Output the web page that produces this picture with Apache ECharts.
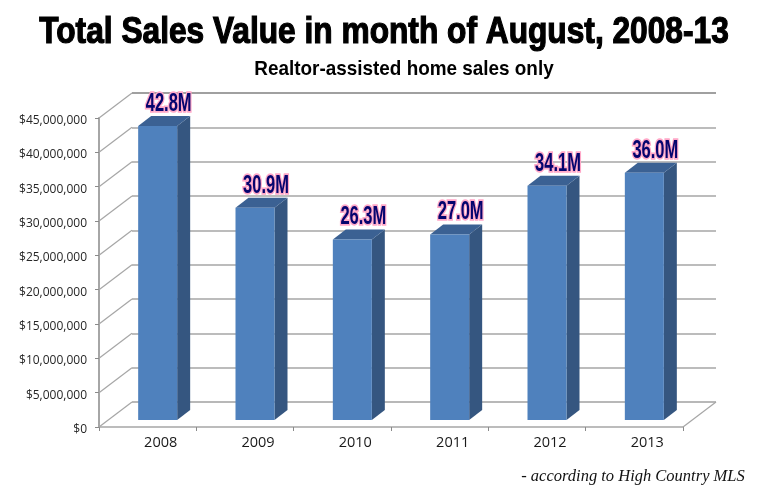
<!DOCTYPE html>
<html>
<head>
<meta charset="utf-8">
<style>
  html, body { margin: 0; padding: 0; background: #fff; }
  #chart { width: 761px; height: 490px; }
</style>
<script src="https://cdn.jsdelivr.net/npm/echarts@6/dist/echarts.min.js"></script>
</head>
<body>
<div id="chart"></div>
<script>
const years = ['2008', '2009', '2010', '2011', '2012', '2013']
const salesValue = [42800000, 30900000, 26300000, 27000000, 34100000, 36000000]
const wallTicks = [0, 5000000, 10000000, 15000000, 20000000, 25000000, 30000000, 35000000, 40000000, 45000000]

const DEPTH_X = 33
const DEPTH_Y = 25
const BAR_WIDTH = 39
const BAR_SHIFT_X = 10
const BAR_SHIFT_Y = 7
const SIDE_X = 13
const SIDE_Y = 10
const HEAVY_FONT = '"Liberation Sans", sans-serif'

const chart = echarts.init(document.getElementById('chart'))

function moneyLabel (v) {
  return '{m|$' + String(v).replace(/\B(?=(\d{3})+$)/g, ',') + '}'
}

function renderBar (params, api) {
  const top = api.coord([api.value(0), api.value(1)])
  const base = api.coord([api.value(0), 0])
  const x0 = top[0] + BAR_SHIFT_X - BAR_WIDTH / 2
  const x1 = x0 + BAR_WIDTH
  const y0 = top[1] - BAR_SHIFT_Y
  const yBot = base[1] - BAR_SHIFT_Y
  return {
    type: 'group',
    children: [
      {
        type: 'polygon',
        shape: { points: [[x1, y0], [x1 + SIDE_X, y0 - SIDE_Y], [x1 + SIDE_X, yBot - SIDE_Y], [x1, yBot]] },
        style: { fill: '#355680' }
      },
      {
        type: 'polygon',
        shape: { points: [[x0, y0], [x0 + SIDE_X, y0 - SIDE_Y], [x1 + SIDE_X, y0 - SIDE_Y], [x1, y0]] },
        style: { fill: '#3b6193' }
      },
      {
        type: 'rect',
        shape: { x: x0, y: y0, width: BAR_WIDTH, height: yBot - y0 },
        style: { fill: '#4f81bd' }
      },
      {
        type: 'text',
        z2: 10,
        x: x0 + BAR_WIDTH / 2 + 11,
        y: y0 - 22,
        scaleX: 0.66,
        style: {
          text: (api.value(1) / 1000000).toFixed(1) + 'M',
          align: 'center',
          verticalAlign: 'middle',
          font: 'bold 25px ' + HEAVY_FONT,
          fill: '#05056e',
          stroke: '#ffa8c8',
          lineWidth: 3.5,
          strokeFirst: true
        }
      }
    ]
  }
}

function renderWallLine (params, api) {
  const p = api.coord([0, api.value(0)])
  const left = params.coordSys.x
  return {
    type: 'line',
    shape: { x1: left, y1: p[1], x2: left + DEPTH_X, y2: p[1] - DEPTH_Y },
    style: { stroke: '#a6a6a6', lineWidth: 1.2 }
  }
}

function renderFloorEdge (params, api) {
  const right = params.coordSys.x + params.coordSys.width
  const p = api.coord([0, 0])
  return {
    type: 'line',
    shape: { x1: right, y1: p[1], x2: right + DEPTH_X, y2: p[1] - DEPTH_Y },
    style: { stroke: '#a6a6a6', lineWidth: 1.2 }
  }
}

const option = {
  animation: false,
  backgroundColor: '#fff',
  graphic: [
    {
      type: 'text',
      x: 384,
      y: 33,
      scaleX: 0.88,
      style: {
        text: 'Total Sales Value in month of August, 2008-13',
        align: 'center',
        verticalAlign: 'middle',
        font: 'bold 36px ' + HEAVY_FONT,
        fill: '#000',
        stroke: '#000',
        lineWidth: 1.2
      }
    },
    {
      type: 'text',
      x: 404,
      y: 69,
      scaleX: 0.9,
      style: {
        text: 'Realtor-assisted home sales only',
        align: 'center',
        verticalAlign: 'middle',
        font: 'bold 21px ' + HEAVY_FONT,
        fill: '#000'
      }
    },
    {
      type: 'text',
      x: 633,
      y: 477,
      style: {
        text: '- according to High Country MLS',
        align: 'center',
        verticalAlign: 'middle',
        font: 'italic 16.5px "Liberation Serif", serif',
        fill: '#111'
      }
    }
  ],
  grid: [
    { left: 99, top: 118, width: 584, height: 309 },
    { left: 132, top: 93, width: 584, height: 309 }
  ],
  xAxis: [
    {
      type: 'category',
      data: years,
      gridIndex: 0,
      axisLine: { lineStyle: { color: '#a6a6a6', width: 1.5 } },
      axisTick: { show: true, alignWithLabel: false, length: 4, lineStyle: { color: '#8a8a8a' } },
      axisLabel: { color: '#1a1a1a', fontFamily: 'Open Sans', fontSize: 14.5, margin: 8, padding: [0, 0, 0, 26] }
    },
    {
      type: 'category',
      data: years,
      gridIndex: 1,
      show: false
    }
  ],
  yAxis: [
    {
      type: 'value',
      gridIndex: 0,
      min: 0,
      max: 45000000,
      interval: 5000000,
      axisLine: { show: true, lineStyle: { color: '#a6a6a6', width: 2 } },
      axisTick: { show: true, length: 4, lineStyle: { color: '#8a8a8a' } },
      splitLine: { show: false },
      axisLabel: {
        margin: 12,
        formatter: moneyLabel,
        rich: { m: { color: '#262626', fontFamily: 'Open Sans', fontSize: 12, padding: [5, 0, 0, 0] } }
      }
    },
    {
      type: 'value',
      gridIndex: 1,
      min: 0,
      max: 45000000,
      interval: 5000000,
      axisLine: { show: false },
      axisTick: { show: false },
      axisLabel: { show: false },
      splitLine: {
        show: true,
        lineStyle: {
          color: ['#a0a0a0', '#a6a6a6', '#a6a6a6', '#a6a6a6', '#a6a6a6', '#a6a6a6', '#a6a6a6', '#a6a6a6', '#a6a6a6', '#808080'],
          width: 1.5
        }
      }
    }
  ],
  series: [
    {
      type: 'custom',
      xAxisIndex: 0,
      yAxisIndex: 0,
      z: 1,
      silent: true,
      renderItem: renderWallLine,
      data: wallTicks.map(v => [v]),
      encode: { y: 0 }
    },
    {
      type: 'custom',
      xAxisIndex: 0,
      yAxisIndex: 0,
      z: 1,
      silent: true,
      renderItem: renderFloorEdge,
      data: [[0]],
      encode: { y: 0 }
    },
    {
      type: 'custom',
      xAxisIndex: 0,
      yAxisIndex: 0,
      z: 5,
      renderItem: renderBar,
      data: salesValue.map((v, i) => [i, v]),
      encode: { x: 0, y: 1 }
    }
  ]
}

chart.setOption(option)
</script>
</body>
</html>
